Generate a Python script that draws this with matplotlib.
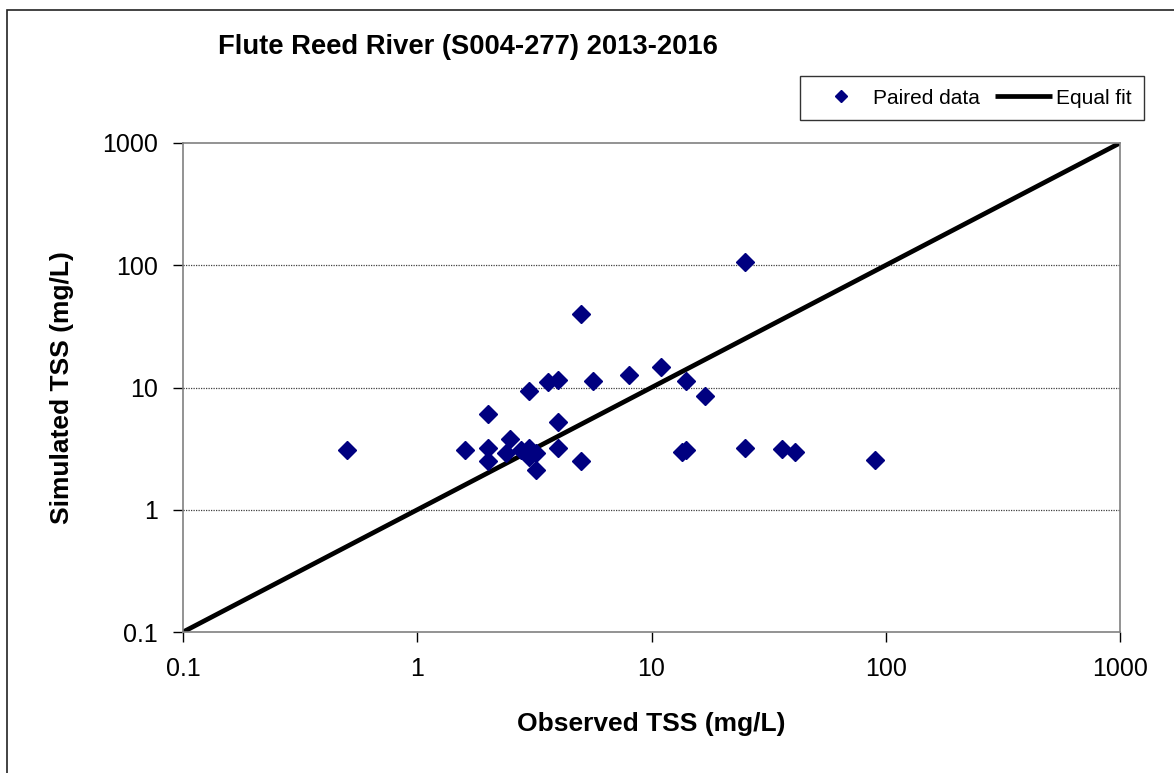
import matplotlib
matplotlib.use("Agg")
import matplotlib.pyplot as plt
from matplotlib.patches import Rectangle
import numpy as np

plt.rcParams['font.family'] = ['Liberation Sans', 'DejaVu Sans']

title = "Flute Reed River (S004-277) 2013-2016"
xlabel = "Observed TSS (mg/L)"
ylabel = "Simulated TSS (mg/L)"
tick_values = [0.1, 1, 10, 100, 1000]
tick_labels = ["0.1", "1", "10", "100", "1000"]

observed = [0.5, 1.6, 2.0, 2.0, 2.0, 2.4, 2.5, 2.77, 3.0, 3.0, 3.2, 3.2, 3.0,
            3.6, 4.0, 4.0, 4.0, 5.0, 5.0, 5.6, 8.0, 11.0, 14.0, 17.0, 13.5,
            14.0, 25.0, 25.0, 36.0, 41.0, 90.0]
simulated = [3.08, 3.08, 6.1, 3.2, 2.5, 2.93, 3.8, 3.08, 3.2, 2.7, 2.9, 2.1, 9.4,
             11.1, 11.5, 5.25, 3.18, 2.52, 40.0, 11.4, 12.6, 14.6, 11.4, 8.6, 2.95,
             3.1, 3.2, 106.0, 3.15, 2.95, 2.55]
equal_fit = [0.1, 1000]

W, H = 1174, 773
fig = plt.figure(figsize=(W / 100, H / 100), dpi=100)
ax = fig.add_axes([183 / W, 1 - 632 / H, (1120 - 183) / W, (632 - 143) / H])

ax.set_xscale('log')
ax.set_yscale('log')
ax.set_xlim(0.1, 1000)
ax.set_ylim(0.1, 1000)

for v in tick_values[1:-1]:
    ax.axhline(v, color='#404040', lw=0.9, ls=(0, (1, 1)), zorder=1)

ax.plot(equal_fit, equal_fit, color='black', lw=3.4, zorder=2, label='Equal fit',
        solid_capstyle='butt')
ax.plot(observed, simulated, ls='none', marker='D', ms=9.5, color='#000080',
        mec='#000080', zorder=3, label='Paired data')

ax.set_xticks(tick_values)
ax.set_xticklabels(tick_labels)
ax.set_yticks(tick_values)
ax.set_yticklabels(tick_labels)
ax.minorticks_off()
ax.tick_params(axis='both', which='major', direction='out', length=7, width=1,
               color='black', labelsize=18)
ax.tick_params(axis='x', pad=11)
ax.tick_params(axis='y', pad=11)
for s in ax.spines.values():
    s.set_color('#808080')
    s.set_linewidth(1.2)

ax.set_xlabel(xlabel, fontsize=19, fontweight='bold', labelpad=22)
ax.set_ylabel(ylabel, fontsize=19, fontweight='bold', labelpad=20)

fig.text(218 / W, 1 - 47 / H, title, fontsize=19.7, fontweight='bold',
         ha='left', va='center')

handles, labels = ax.get_legend_handles_labels()
leg = fig.legend([handles[1], handles[0]], [labels[1], labels[0]], ncol=2,
                 loc='upper right', bbox_to_anchor=(1144 / W, 1 - 76 / H),
                 fontsize=15, frameon=True, fancybox=False, edgecolor='black',
                 handlelength=2.7, handletextpad=0.2, columnspacing=0.75,
                 borderpad=0.6, markerscale=0.65, borderaxespad=0)
leg.get_frame().set_linewidth(1.0)

fig.patches.append(Rectangle((7 / W, -0.05), 1.1, 1 - 10 / H + 0.05,
                             transform=fig.transFigure, fill=False,
                             edgecolor='#222222', lw=1.2))

fig.savefig('out.png', dpi=100)
